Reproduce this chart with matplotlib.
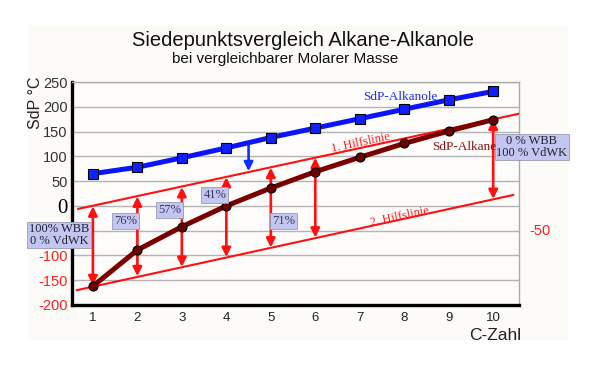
import matplotlib
matplotlib.use("Agg")
import matplotlib.pyplot as plt
from matplotlib.patches import Rectangle

c_zahl = [1, 2, 3, 4, 5, 6, 7, 8, 9, 10]
sdp_alkanole = [65, 78, 97, 117, 138, 157, 176, 195, 214, 231]
sdp_alkane = [-162, -89, -42, 0, 36, 69, 98, 126, 151, 174]

hilfslinie1_x = [0.67, 10.58]
hilfslinie1_y = [-6, 186]
hilfslinie2_x = [0.64, 10.45]
hilfslinie2_y = [-170, 22]

pfeil_x = [1, 2, 3, 4, 5, 6, 10]
pfeil_oben = [-1, 19, 38, 58, 77, 97, 174]
pfeil_unten = [-160, -142, -123, -103, -84, -64, 14]

prozent_labels = ["76%", "57%", "41%", "71%"]
prozent_x = [1.74, 2.73, 3.74, 5.29]
prozent_y = [-30, -8, 22, -30]

blau_pfeil_x = 4.5
blau_pfeil_y = [127, 70]

y_ticks = [-200, -150, -100, -50, 0, 50, 100, 150, 200, 250]
y_ticklabels = ["-200", "-150", "-100", "", "0", "50", "100", "150", "200", "250"]

fig = plt.figure(figsize=(5.93, 3.65), dpi=100)
fig.patch.set_facecolor("white")
bg = Rectangle((28 / 593, 25 / 365), 540 / 593, 315 / 365,
               transform=fig.transFigure, facecolor="#fcfbf8",
               edgecolor="none", zorder=-10)
fig.patches.append(bg)

ax = fig.add_axes([72 / 593, 60 / 365, 447 / 593, 223 / 365])
ax.set_zorder(1)
ax.set_facecolor("#fdfcfa")
ax.set_xlim(0.53, 10.58)
ax.set_ylim(-200, 250)

for y in y_ticks:
    ax.axhline(y, color="#b4b4b4", lw=1.0, zorder=1)

for s in ["left", "bottom"]:
    ax.spines[s].set_color("black")
    ax.spines[s].set_linewidth(2.4)
for s in ["top", "right"]:
    ax.spines[s].set_color("#aaaaaa")
    ax.spines[s].set_linewidth(1.0)

ax.set_xticks(c_zahl)
ax.set_xticklabels([str(v) for v in c_zahl], fontsize=9.5, color="#222222",
                   family="Liberation Sans")
ax.set_yticks(y_ticks)
ax.set_yticklabels(y_ticklabels, fontsize=10.5, family="Liberation Sans")
ax.tick_params(axis="y", length=0, pad=3)
ax.tick_params(axis="x", length=0, pad=5)
for lbl, v in zip(ax.get_yticklabels(), y_ticks):
    if v < 0:
        lbl.set_color("#ff2020")
    elif v == 0:
        lbl.set_color("black")
        lbl.set_family("Liberation Serif")
        lbl.set_fontsize(15)
    else:
        lbl.set_color("#333333")

# helper lines
ax.plot(hilfslinie1_x, hilfslinie1_y, color="#ff1010", lw=1.5, zorder=3)
ax.plot(hilfslinie2_x, hilfslinie2_y, color="#ff1010", lw=1.5, zorder=3)

# series
ax.plot(c_zahl, sdp_alkanole, color="#0a14ff", lw=3.6, marker="s", markersize=6.5,
        markerfacecolor="#1020ff", markeredgecolor="black", markeredgewidth=0.8, zorder=5)
ax.plot(c_zahl, sdp_alkane, color="#7a0000", lw=3.6, marker="o", markersize=6.5,
        markerfacecolor="#6a0000", markeredgecolor="black", markeredgewidth=0.8, zorder=5)

# red double arrows
for x, yt, yb in zip(pfeil_x, pfeil_oben, pfeil_unten):
    ax.annotate("", xy=(x, yt), xytext=(x, yb),
                arrowprops=dict(arrowstyle="<|-|>", color="#ff1010", lw=1.9,
                                mutation_scale=13, shrinkA=0, shrinkB=0), zorder=4)

# blue arrow
ax.annotate("", xy=(blau_pfeil_x, blau_pfeil_y[1]), xytext=(blau_pfeil_x, blau_pfeil_y[0]),
            arrowprops=dict(arrowstyle="-|>", color="#1030ff", lw=1.9,
                            mutation_scale=13, shrinkA=0, shrinkB=0), zorder=4)

box = dict(boxstyle="square,pad=0.15", facecolor="#c4c6f2", edgecolor="#9a9ab0", lw=0.6)
for t, x, y in zip(prozent_labels, prozent_x, prozent_y):
    ax.text(x, y, t, fontsize=9, family="Liberation Serif", color="#3a3a60",
            ha="center", va="center", bbox=box, zorder=6)

ax.text(0.236, -59, "100% WBB\n0 % VdWK", fontsize=9, family="Liberation Serif",
        color="#222233", ha="center", va="center", linespacing=0.95,
        bbox=dict(boxstyle="square,pad=0.12", facecolor="#c4c6f2", edgecolor="#9a9ab0", lw=0.6),
        clip_on=False, zorder=6)
ax.text(10.87, 119, "0 % WBB\n100 % VdWK", fontsize=9, family="Liberation Serif",
        color="#222233", ha="center", va="center", linespacing=0.95,
        bbox=dict(boxstyle="square,pad=0.12", facecolor="#c4c6f2", edgecolor="#9a9ab0", lw=0.6),
        clip_on=False, zorder=6)

ax.text(7.92, 220, "SdP-Alkanole", fontsize=9.5, family="Liberation Serif",
        color="#1a2aff", ha="center", va="center", zorder=6)
ax.text(9.34, 119, "SdP-Alkane", fontsize=9.5, family="Liberation Serif",
        color="#8a1010", ha="center", va="center", zorder=6)
ax.text(7.02, 128, "1. Hilfslinie", fontsize=9, family="Liberation Serif",
        color="#ff2020", ha="center", va="center", rotation=12, zorder=6)
ax.text(7.9, -22, "2. Hilfslinie", fontsize=9, family="Liberation Serif",
        color="#ff2020", ha="center", va="center", rotation=12, zorder=6)

ax.text(10.82, -50, "-50", fontsize=10.5, family="Liberation Sans", color="#ff2020",
        ha="left", va="center", clip_on=False)

fig.text(35 / 593, 1 - 103 / 365, "SdP °C", rotation=90, fontsize=11.5,
         family="Liberation Sans", color="#222222", ha="center", va="center")
fig.text(495 / 593, 1 - 335 / 365, "C-Zahl", fontsize=12.5,
         family="Liberation Sans", color="#222222", ha="center", va="center")
fig.text(303 / 593, 1 - 40 / 365, "Siedepunktsvergleich Alkane-Alkanole", fontsize=14.5,
         family="Liberation Sans", color="#111111", ha="center", va="center")
fig.text(285 / 593, 1 - 59 / 365, "bei vergleichbarer Molarer Masse", fontsize=11,
         family="Liberation Sans", color="#111111", ha="center", va="center")

fig.savefig("out.png", dpi=100, facecolor=fig.get_facecolor())
